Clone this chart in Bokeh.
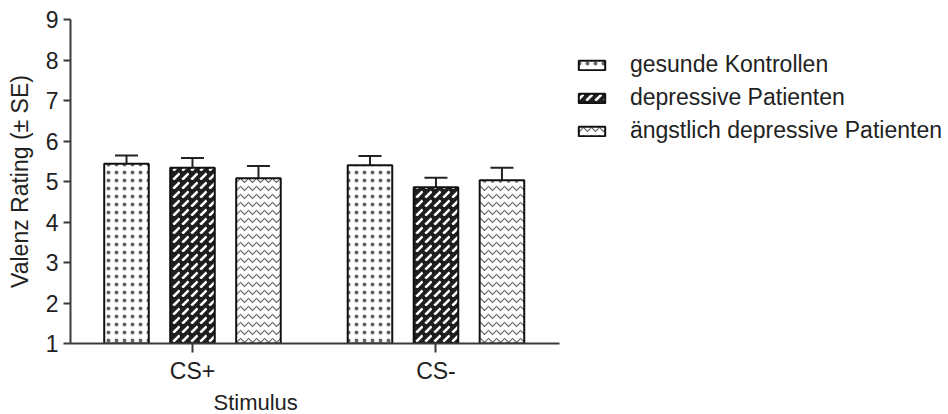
from bokeh.plotting import figure
from bokeh.models import (ColumnDataSource, FixedTicker, Legend, LegendItem,
                          Whisker, TeeHead, Title)
from bokeh.embed import file_html
from bokeh.resources import INLINE

# Mean valence ratings per stimulus and group, with standard errors
stimuli = ["CS+", "CS-"]
groups = ["gesunde Kontrollen", "depressive Patienten", "ängstlich depressive Patienten"]
gesunde = [5.44, 5.40]
gesunde_se = [0.20, 0.23]
depressiv = [5.34, 4.86]
depressiv_se = [0.24, 0.23]
aengstlich = [5.08, 5.03]
aengstlich_se = [0.30, 0.31]

means = [gesunde, depressiv, aengstlich]
errors = [gesunde_se, depressiv_se, aengstlich_se]

FONT = "Liberation Sans"
STEP = 0.271      # distance between neighbouring bars within a stimulus group
BAR_W = 0.183
X_LO, X_HI = -0.501, 1.507   # extent of the drawn x axis
X_VIEW_HI = 3.105            # frame continues to the right to hold the legend

p = figure(frame_width=878, frame_height=324, output_backend="svg",
           toolbar_location=None,
           x_range=(X_LO, X_VIEW_HI), y_range=(1, 9),
           min_border_left=70, min_border_right=0,
           min_border_top=19, min_border_bottom=70)
p.outline_line_color = None
p.xgrid.visible = False
p.ygrid.visible = False
p.background_fill_color = "white"
p.border_fill_color = "white"

styles = [
    dict(fill_color="white", hatch_pattern=".", hatch_color="#666666",
         hatch_scale=8, hatch_weight=1.2),
    dict(fill_color="#1e1e1e", hatch_pattern=",", hatch_color="white",
         hatch_scale=9, hatch_weight=2.6),
    dict(fill_color="white", hatch_pattern="v", hatch_color="#666666",
         hatch_scale=8, hatch_weight=1.2),
]

items = []
for i, (name, vals, se, st) in enumerate(zip(groups, means, errors, styles)):
    xs = [g + (i - 1) * STEP for g in range(len(stimuli))]
    src = ColumnDataSource(dict(x=xs, top=vals,
                                upper=[v + e for v, e in zip(vals, se)]))
    r = p.vbar(x="x", top="top", bottom=1, width=BAR_W, source=src,
               line_color="#111111", line_width=2, **st)
    p.add_layout(Whisker(source=src, base="x", upper="upper", lower="top",
                         dimension="height", line_color="#222222", line_width=2,
                         upper_head=TeeHead(size=23, line_color="#222222", line_width=2),
                         lower_head=None))
    items.append(LegendItem(label=name, renderers=[r]))

legend = Legend(items=items, location=(505, 196), padding=0, margin=0,
                spacing=0, glyph_width=33, glyph_height=12, label_height=33,
                label_standoff=22, border_line_color=None,
                background_fill_alpha=0, label_text_font=FONT,
                label_text_font_size="23px", label_text_color="#222222",
                label_text_baseline="middle")
p.add_layout(legend, "center")

for ax in (p.xaxis[0], p.yaxis[0]):
    ax.axis_line_color = "#3a3a3a"
    ax.axis_line_width = 2
    ax.major_tick_line_color = "#3a3a3a"
    ax.major_tick_line_width = 2
    ax.minor_tick_line_color = None
    ax.major_tick_in = 0
    ax.major_label_text_font = FONT
    ax.major_label_text_font_size = "23px"
    ax.major_label_text_color = "#222222"
    ax.axis_label_text_font = FONT
    ax.axis_label_text_font_style = "normal"
    ax.axis_label_text_color = "#222222"

p.xaxis.bounds = (X_LO, X_HI)
p.xaxis.ticker = FixedTicker(ticks=list(range(len(stimuli))))
p.xaxis.major_label_overrides = {i: s for i, s in enumerate(stimuli)}
p.xaxis.major_tick_out = 9
p.xaxis.major_label_standoff = 5

# x axis title, centred under the drawn part of the axis
p.add_layout(Title(text="Stimulus", align="left", offset=143, standoff=2,
                   text_font=FONT, text_font_size="22px",
                   text_font_style="normal", text_color="#222222"), "below")

p.yaxis.ticker = FixedTicker(ticks=list(range(1, 10)))
p.yaxis.major_tick_out = 7
p.yaxis.major_label_standoff = 5
p.yaxis.axis_label = "Valenz Rating (± SE)"
p.yaxis.axis_label_text_font_size = "23px"
p.yaxis.axis_label_standoff = 10

open("out.html", "w").write(file_html(p, INLINE))
